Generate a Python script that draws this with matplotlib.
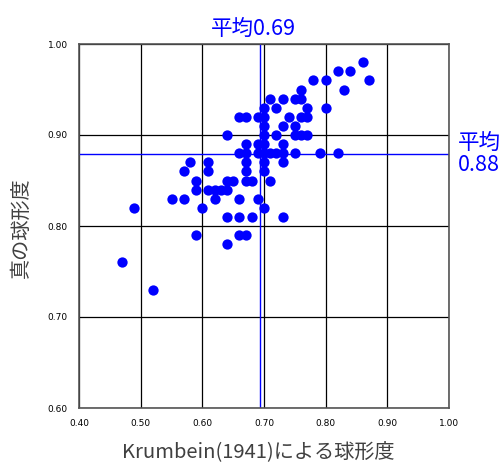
import matplotlib
matplotlib.use("Agg")
import matplotlib.pyplot as plt
import numpy as np

plt.rcParams['font.family'] = ['Noto Sans CJK JP', 'DejaVu Sans']

krumbein = [0.86, 0.82, 0.84, 0.78, 0.80, 0.87, 0.76, 0.83,
            0.71, 0.73, 0.75, 0.76,
            0.70, 0.72, 0.77, 0.80,
            0.66, 0.67, 0.69, 0.70, 0.74, 0.76, 0.77,
            0.70, 0.73, 0.75,
            0.64, 0.70, 0.72, 0.75, 0.76, 0.77,
            0.67, 0.69, 0.70, 0.73,
            0.66, 0.67, 0.69, 0.70, 0.71, 0.72, 0.73, 0.75, 0.79, 0.82,
            0.58, 0.61, 0.67, 0.70, 0.73,
            0.57, 0.61, 0.67, 0.70,
            0.59, 0.64, 0.65, 0.67, 0.68, 0.71,
            0.59, 0.61, 0.62, 0.63, 0.64,
            0.55, 0.57, 0.62, 0.66, 0.69,
            0.49, 0.60, 0.70,
            0.64, 0.66, 0.68, 0.73,
            0.59, 0.66, 0.67,
            0.64, 0.47, 0.52]
true_sph = [0.98, 0.97, 0.97, 0.96, 0.96, 0.96, 0.95, 0.95,
            0.94, 0.94, 0.94, 0.94,
            0.93, 0.93, 0.93, 0.93,
            0.92, 0.92, 0.92, 0.92, 0.92, 0.92, 0.92,
            0.91, 0.91, 0.91,
            0.90, 0.90, 0.90, 0.90, 0.90, 0.90,
            0.89, 0.89, 0.89, 0.89,
            0.88, 0.88, 0.88, 0.88, 0.88, 0.88, 0.88, 0.88, 0.88, 0.88,
            0.87, 0.87, 0.87, 0.87, 0.87,
            0.86, 0.86, 0.86, 0.86,
            0.85, 0.85, 0.85, 0.85, 0.85, 0.85,
            0.84, 0.84, 0.84, 0.84, 0.84,
            0.83, 0.83, 0.83, 0.83, 0.83,
            0.82, 0.82, 0.82,
            0.81, 0.81, 0.81, 0.81,
            0.79, 0.79, 0.79,
            0.78, 0.76, 0.73]

mean_x = 0.693
mean_y = 0.879
mean_x_label = "平均0.69"
mean_y_label = "平均\n0.88"
xticks = [0.40, 0.50, 0.60, 0.70, 0.80, 0.90, 1.00]
yticks = [0.60, 0.70, 0.80, 0.90, 1.00]
xlabel = "Krumbein(1941)による球形度"
ylabel = "真の球形度"

W, H = 499, 472
fig = plt.figure(figsize=(W / 100, H / 100), dpi=100)
ax = fig.add_axes([79 / W, 1 - 408 / H, 370 / W, 364 / H])
ax.set_xlim(0.40, 1.00)
ax.set_ylim(0.60, 1.00)
ax.set_xticks(xticks)
ax.set_yticks(yticks)
ax.set_xticklabels([f"{v:.2f}" for v in xticks], fontsize=6.5, family='DejaVu Sans')
ax.set_yticklabels([f"{v:.2f}" for v in yticks], fontsize=6.5, family='DejaVu Sans')
ax.tick_params(length=0, pad=8)
ax.grid(True, color='black', linewidth=0.9)
ax.set_axisbelow(True)
for s in ax.spines.values():
    s.set_color('#555555')
    s.set_linewidth(1.2)

ax.scatter(krumbein, true_sph, s=55, color='#0000ff', zorder=3, linewidths=0)
ax.axvline(mean_x, color='#0000ff', linewidth=1.0, zorder=2)
ax.axhline(mean_y, color='#0000ff', linewidth=1.0, zorder=2)

fig.text(253 / W, 1 - 29 / H, mean_x_label, ha='center', va='center', color='#0000ff', fontsize=15.5)
fig.text(458 / W, 1 - 154 / H, mean_y_label, ha='left', va='center', color='#0000ff', fontsize=15.5,
         linespacing=1.0)

fig.text(258 / W, 1 - 452 / H, xlabel, ha='center', va='center', fontsize=14.5, color='#404040')
fig.text(21 / W, 1 - 228 / H, ylabel, ha='center', va='center', rotation=90, fontsize=14.5, color='#404040')

fig.savefig("out.png", dpi=100)
